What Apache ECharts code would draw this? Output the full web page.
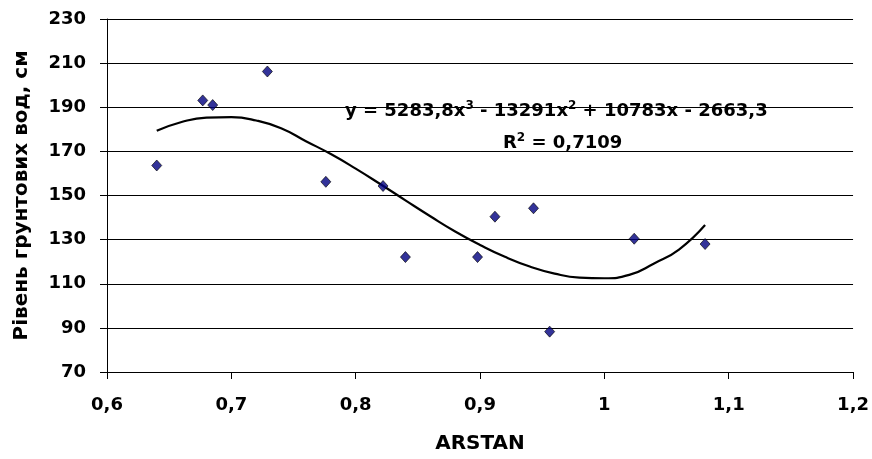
<!DOCTYPE html>
<html>
<head>
<meta charset="utf-8">
<script src="https://cdn.jsdelivr.net/npm/echarts@6/dist/echarts.min.js"></script>
<style>
html,body{margin:0;padding:0;background:#fff;}
#chart{width:872px;height:459px;}
</style>
</head>
<body>
<div id="chart"></div>
<script>
// Observed points (ARSTAN index vs groundwater level, cm)
var pointX = [0.640, 0.677, 0.685, 0.729, 0.776, 0.822, 0.840, 0.898, 0.912, 0.943, 0.956, 1.024, 1.081];
var pointY = [163.6, 193.1, 191.0, 206.2, 156.2, 154.3, 122.1, 122.1, 140.4, 144.2, 88.3, 130.4, 128.0];

// Trend line
var curveX = [0.640, 0.66, 0.68, 0.70, 0.72, 0.74, 0.76, 0.78, 0.80, 0.82, 0.84, 0.86, 0.88, 0.90, 0.92, 0.94, 0.96, 0.98, 1.00, 1.02, 1.04, 1.06, 1.081];
var curveY = [179.3, 183.3, 185.3, 185.5, 184.0, 180.5, 174.6, 168.8, 162.2, 155.1, 147.8, 140.6, 133.7, 127.6, 122.2, 117.8, 114.6, 112.8, 112.5, 114.0, 119.2, 125.5, 136.6];

var xTicks = [0.6, 0.7, 0.8, 0.9, 1.0, 1.1, 1.2];
var yTicks = [70, 90, 110, 130, 150, 170, 190, 210, 230];

var eqLine1 = ['y = 5283,8x', '3', ' - 13291x', '2', ' + 10783x - 2663,3'];
var eqLine2 = ['R', '2', ' = 0,7109'];

var FONT = 'DejaVu Sans';

var chart = echarts.init(document.getElementById('chart'), null, {renderer: 'canvas'});

function fmt(v) { return String(Math.round(v * 10) / 10).replace('.', ','); }

var scatterData = pointX.map(function (x, i) { return [x, pointY[i]]; });
var curveData = curveX.map(function (x, i) { return [x, curveY[i]]; });

function richEq(parts) {
  var s = '';
  parts.forEach(function (p, i) { s += (i % 2 === 0 ? '{a|' : '{s|') + p + '}'; });
  return s;
}

var eqRich = {
  a: {fontFamily: FONT, fontWeight: 'bold', fontSize: 18, fill: '#000'},
  s: {fontFamily: FONT, fontWeight: 'bold', fontSize: 12, fill: '#000', padding: [0, 0, 11, 0]}
};

var option = {
  backgroundColor: '#ffffff',
  animation: false,
  grid: {left: 107, right: 16, top: 19, bottom: 84, containLabel: false},
  xAxis: {
    type: 'value',
    min: xTicks[0],
    max: xTicks[xTicks.length - 1],
    interval: 0.1,
    name: 'ARSTAN',
    nameLocation: 'middle',
    nameGap: 62,
    nameTextStyle: {fontFamily: FONT, fontWeight: 'bold', fontSize: 20, color: '#000'},
    axisLine: {show: true, onZero: false, lineStyle: {color: '#000', width: 1}},
    axisTick: {show: true, inside: false, length: 7, lineStyle: {color: '#000'}},
    axisLabel: {margin: 24, fontFamily: FONT, fontWeight: 'bold', fontSize: 18, color: '#000', formatter: fmt},
    splitLine: {show: false}
  },
  yAxis: {
    type: 'value',
    min: yTicks[0],
    max: yTicks[yTicks.length - 1],
    interval: 20,
    name: 'Рівень грунтових вод, см',
    nameLocation: 'middle',
    nameRotate: 90,
    nameGap: 75,
    nameTextStyle: {fontFamily: FONT, fontWeight: 'bold', fontSize: 20, color: '#000'},
    axisLine: {show: true, lineStyle: {color: '#000', width: 1}},
    axisTick: {show: true, inside: false, length: 7, lineStyle: {color: '#000'}},
    axisLabel: {margin: 21, fontFamily: FONT, fontWeight: 'bold', fontSize: 18, color: '#000'},
    splitLine: {show: true, lineStyle: {color: '#000', width: 1}}
  },
  series: [
    {
      type: 'line',
      data: curveData,
      smooth: true,
      showSymbol: false,
      symbol: 'none',
      lineStyle: {color: '#000', width: 2.2},
      z: 3
    },
    {
      type: 'scatter',
      data: scatterData,
      symbol: 'diamond',
      symbolSize: [10, 11],
      itemStyle: {color: '#000080', borderColor: '#000', borderWidth: 0.8},
      z: 4
    }
  ],
  graphic: [
    {
      type: 'text',
      left: 345,
      top: 100,
      z: 10,
      style: {text: richEq(eqLine1), rich: eqRich}
    },
    {
      type: 'text',
      left: 503,
      top: 132,
      z: 10,
      style: {text: richEq(eqLine2), rich: eqRich}
    }
  ]
};

chart.setOption(option);
</script>
</body>
</html>
